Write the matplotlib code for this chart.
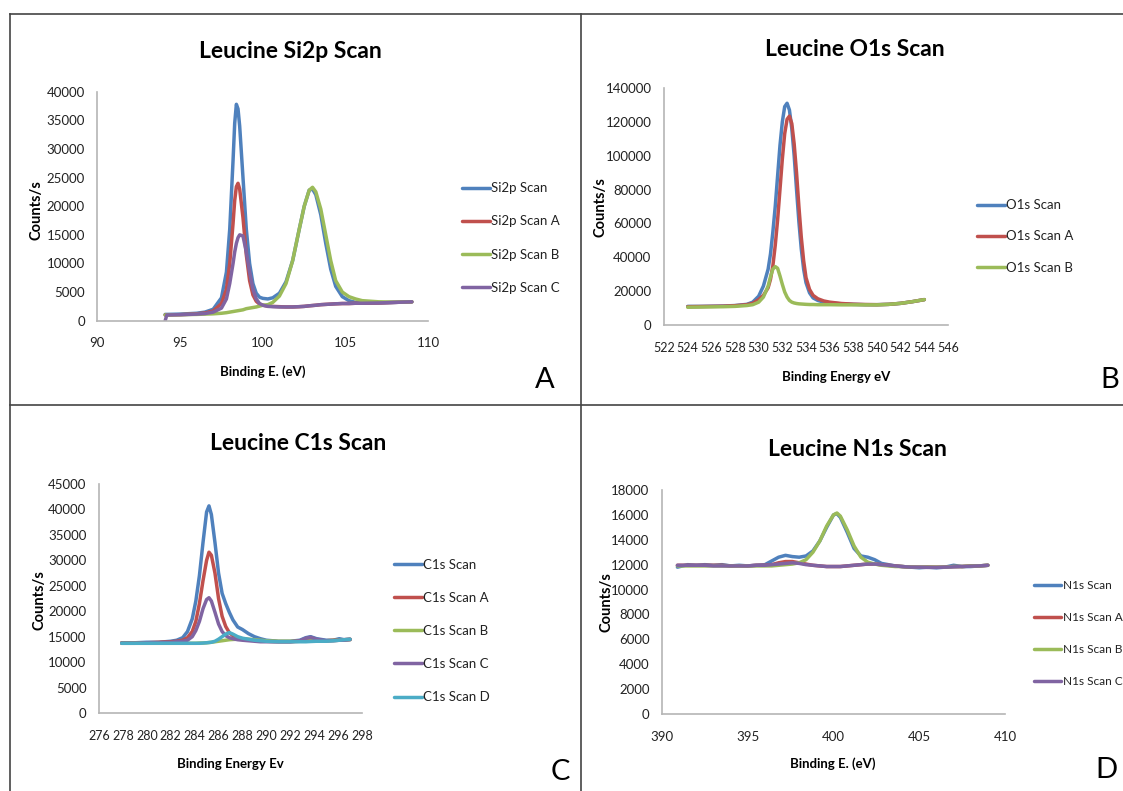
import matplotlib
matplotlib.use("Agg")
import matplotlib.pyplot as plt
from matplotlib.lines import Line2D

W, H = 1123, 791
FONT = ['Lato', 'DejaVu Sans']
plt.rcParams['font.family'] = FONT

BLUE, RED, GREEN, PURPLE, CYAN = '#4F81BD', '#C0504D', '#9BBB59', '#8064A2', '#4BACC6'

# ---------------- Panel A : Si2p ----------------
si2p_x = [94.1, 94.2, 95, 96, 96.5, 97.0, 97.5, 97.8, 98.0, 98.2, 98.3, 98.4, 98.5, 98.6, 98.8, 99.0,
          99.2, 99.4, 99.6, 99.8, 100.0, 100.3, 100.6, 101.0, 101.4, 101.8, 102.2, 102.5, 102.8, 103.0,
          103.2, 103.5, 103.8, 104.1, 104.4, 104.8, 105.2, 105.6, 106, 107, 108, 109]
si2p_scan = [1100, 1100, 1150, 1300, 1500, 2000, 4000, 8500, 16000, 28000, 34500, 37800, 37000, 34000,
             25000, 16000, 10000, 6500, 4800, 4100, 3900, 3800, 4000, 4800, 6800, 10500, 16000, 20000,
             22800, 23000, 22000, 18500, 13500, 9000, 6000, 4200, 3500, 3200, 3100, 3100, 3200, 3300]
si2p_scan_a = [1000, 1000, 1050, 1200, 1350, 1700, 3000, 5500, 10000, 17000, 21000, 23400, 24000, 23000,
               18000, 11500, 7000, 4500, 3400, 2900, 2700, 2550, 2500, 2450, 2400, 2400, 2450, 2500,
               2600, 2650, 2700, 2800, 2850, 2900, 2950, 3000, 3000, 3050, 3050, 3100, 3200, 3300]
si2p_scan_b = [1000, 1000, 1050, 1100, 1150, 1200, 1300, 1400, 1500, 1600, 1650, 1700, 1750, 1800,
               1900, 2100, 2200, 2300, 2400, 2550, 2700, 2800, 3200, 4300, 6500, 10500, 16000, 20000,
               22800, 23300, 22500, 19500, 15000, 10500, 7000, 5000, 4200, 3800, 3500, 3300, 3250, 3300]
si2p_scan_c = [0, 1000, 1050, 1150, 1250, 1500, 2200, 3800, 6500, 10000, 12000, 13500, 14500, 15000,
               14800, 12000, 8500, 5500, 3800, 3000, 2700, 2500, 2450, 2400, 2400, 2400, 2450, 2500,
               2600, 2650, 2700, 2800, 2850, 2900, 2950, 3000, 3000, 3050, 3050, 3100, 3200, 3300]
si2p_labels = ['Si2p Scan', 'Si2p Scan A', 'Si2p Scan B', 'Si2p Scan C']

# ---------------- Panel B : O1s ----------------
o1s_x = [524, 525, 526, 527, 528, 529, 529.5, 530, 530.4, 530.8, 531.0, 531.2, 531.4, 531.6, 531.8,
         532.0, 532.2, 532.4, 532.6, 532.8, 533.0, 533.2, 533.4, 533.6, 533.8, 534.0, 534.3, 534.6,
         535, 535.5, 536, 537, 538, 539, 540, 541, 542, 543, 544]
o1s_scan = [11000, 11000, 11100, 11200, 11500, 12200, 13500, 17000, 23000, 33000, 42000, 55000, 70000,
            88000, 106000, 120000, 129000, 131000, 127000, 116000, 100000, 80000, 61000, 45000, 33000,
            25000, 19000, 16000, 14500, 13500, 13000, 12500, 12200, 12000, 12000, 12200, 12800, 13800, 15000]
o1s_scan_a = [10800, 10900, 11000, 11100, 11400, 12000, 12800, 15000, 17500, 22000, 27000, 35000, 47000,
              62000, 80000, 98000, 113000, 121500, 123400, 119000, 107000, 90000, 70000, 52000, 38000,
              28000, 21000, 17500, 15500, 14200, 13500, 12700, 12300, 12100, 12000, 12200, 12800, 13800, 15000]
o1s_scan_b = [10500, 10600, 10700, 10800, 11000, 11500, 12000, 13500, 16500, 23000, 28500, 33000, 34500,
              33500, 29000, 24000, 19500, 16500, 14500, 13500, 13000, 12700, 12500, 12400, 12300, 12200,
              12100, 12100, 12000, 12000, 12000, 11900, 11900, 11900, 11900, 12200, 12800, 13800, 15000]
o1s_labels = ['O1s Scan', 'O1s Scan A', 'O1s Scan B']

# ---------------- Panel C : C1s ----------------
c1s_x = [277.9, 279, 280, 281, 282, 282.5, 283, 283.4, 283.8, 284.1, 284.4, 284.7, 285.0, 285.2, 285.4,
         285.7, 286.0, 286.3, 286.6, 286.9, 287.2, 287.6, 288.0, 288.5, 289, 289.5, 290, 291, 292,
         292.8, 293.3, 293.7, 294.2, 295, 295.6, 296.1, 296.5, 297]
c1s_scan = [13800, 13800, 13900, 13900, 14100, 14300, 14800, 16000, 18500, 22000, 27000, 33500, 39500,
            40700, 39000, 33500, 27500, 23500, 21500, 19800, 18300, 16900, 16400, 15600, 15000, 14600,
            14300, 14100, 14100, 14300, 14800, 15000, 14600, 14300, 14300, 14600, 14400, 14500]
c1s_scan_a = [13800, 13800, 13800, 13900, 14000, 14100, 14300, 14800, 16000, 18000, 21500, 26000, 30000,
              31600, 31000, 27500, 22500, 19000, 17000, 15800, 15200, 14800, 14600, 14400, 14300, 14200,
              14100, 14000, 14000, 14100, 14200, 14300, 14200, 14200, 14300, 14400, 14400, 14500]
c1s_scan_b = [13700, 13700, 13700, 13700, 13700, 13700, 13700, 13700, 13700, 13700, 13750, 13750, 13800,
              13850, 13900, 14000, 14100, 14200, 14300, 14400, 14450, 14500, 14500, 14500, 14400, 14300,
              14200, 14100, 14100, 14100, 14100, 14150, 14150, 14200, 14250, 14300, 14350, 14400]
c1s_scan_c = [13700, 13700, 13800, 13800, 13900, 14000, 14100, 14300, 15000, 16200, 18000, 20500, 22300,
              22650, 22000, 19800, 17500, 16000, 15200, 14800, 14600, 14400, 14300, 14200, 14100, 14000,
              14000, 14000, 14000, 14200, 14700, 14900, 14500, 14200, 14200, 14300, 14300, 14400]
c1s_scan_d = [13700, 13700, 13700, 13700, 13700, 13700, 13700, 13700, 13700, 13700, 13700, 13750, 13800,
              13850, 13900, 14100, 14500, 15000, 15500, 15800, 15500, 15000, 14700, 14500, 14300, 14200,
              14100, 14000, 14000, 14000, 14000, 14050, 14100, 14100, 14200, 14300, 14400, 14500]
c1s_labels = ['C1s Scan', 'C1s Scan A', 'C1s Scan B', 'C1s Scan C', 'C1s Scan D']

# ---------------- Panel D : N1s ----------------
n1s_x = [390.9, 391.5, 392, 392.5, 393, 393.5, 394, 394.5, 395, 395.5, 396, 396.4, 396.8, 397.2, 397.6,
         398, 398.4, 398.8, 399.2, 399.6, 400.0, 400.2, 400.4, 400.8, 401.2, 401.6, 402, 402.4, 402.8,
         403.2, 403.6, 404, 404.5, 405, 405.5, 406, 406.5, 407, 407.5, 408, 408.5, 409]
n1s_scan = [11800, 12000, 11950, 12000, 11950, 12000, 11900, 11950, 11900, 11950, 12000, 12300, 12600,
            12750, 12650, 12600, 12700, 13100, 13900, 15000, 16000, 16100, 15800, 14600, 13300, 12700,
            12600, 12400, 12100, 12000, 11900, 11850, 11800, 11750, 11800, 11750, 11800, 11950, 11850,
            11850, 11900, 11950]
n1s_scan_a = [11950, 11950, 11950, 11950, 11950, 11950, 11900, 11900, 11900, 11950, 11950, 12000, 12150,
              12250, 12250, 12150, 12050, 11950, 11900, 11850, 11850, 11850, 11850, 11900, 11950, 12000,
              12050, 12050, 12000, 11950, 11900, 11850, 11800, 11800, 11800, 11800, 11800, 11850, 11850,
              11900, 11900, 11950]
n1s_scan_b = [11900, 11900, 11900, 11900, 11900, 11900, 11900, 11900, 11900, 11900, 11900, 11900, 11950,
              12000, 12050, 12150, 12400, 13000, 13900, 15100, 16000, 16150, 15900, 14800, 13500, 12600,
              12200, 12050, 11950, 11900, 11850, 11850, 11800, 11800, 11800, 11800, 11800, 11850, 11850,
              11900, 11900, 11950]
n1s_scan_c = [11950, 11950, 11950, 11950, 11900, 11900, 11900, 11900, 11900, 11950, 11950, 12000, 12050,
              12100, 12150, 12100, 12000, 11950, 11900, 11850, 11850, 11850, 11850, 11900, 11950, 12000,
              12050, 12050, 12000, 11950, 11900, 11850, 11800, 11800, 11780, 11780, 11800, 11820, 11850,
              11880, 11900, 11950]
n1s_labels = ['N1s Scan', 'N1s Scan A', 'N1s Scan B', 'N1s Scan C']

fig = plt.figure(figsize=(W / 100, H / 100), dpi=100)


def fx(px):
    return px / W


def fy(py):
    return 1 - py / H


def make_axes(l, r, t, b, xsize=9.5):
    ax = fig.add_axes([fx(l), fy(b), (r - l) / W, (b - t) / H])
    for s in ('top', 'right'):
        ax.spines[s].set_visible(False)
    for s in ('left', 'bottom'):
        ax.spines[s].set_color('#b5b5b5')
        ax.spines[s].set_linewidth(1.2)
    ax.tick_params(length=0, labelsize=9.5, colors='#222222')
    ax.tick_params(axis='y', pad=9)
    ax.tick_params(axis='x', pad=12, labelsize=xsize)
    return ax


def draw(ax, x, series, colors, labels, xlim, ylim, xticks, yticks, leg_left, leg_center, spacing,
         legsize=9.5, handlelength=2.1):
    for ys, c, lab in zip(series, colors, labels):
        ax.plot(x, ys, color=c, lw=2.5, label=lab, solid_capstyle='round', solid_joinstyle='round')
    ax.set_xlim(*xlim)
    ax.set_ylim(*ylim)
    ax.set_xticks(xticks)
    ax.set_yticks(yticks)
    ax.set_xticklabels([str(v) for v in xticks])
    ax.set_yticklabels([str(v) for v in yticks])
    leg = ax.legend(loc='center left', bbox_to_anchor=(fx(leg_left), fy(leg_center)),
                    bbox_transform=fig.transFigure, frameon=False, fontsize=legsize,
                    handlelength=handlelength, handletextpad=0.1, borderpad=0, borderaxespad=0,
                    labelspacing=spacing)
    for t in leg.get_texts():
        t.set_color('#222222')


def texts(title, tpos, xlabel, xlpos, ylpos, letter, lpos):
    fig.text(fx(tpos[0]), fy(tpos[1]), title, ha='center', va='center', fontsize=16.5, fontweight='bold')
    fig.text(fx(xlpos[0]), fy(xlpos[1]), xlabel, ha='center', va='center', fontsize=9.5, fontweight='bold')
    fig.text(fx(ylpos[0]), fy(ylpos[1]), 'Counts/s', ha='center', va='center', fontsize=10.5,
             fontweight='bold', rotation=90)
    fig.text(fx(lpos[0]), fy(lpos[1]), letter, ha='center', va='center', fontsize=21)


# Panel A
axA = make_axes(97.3, 428.4, 91.7, 320.7)
draw(axA, si2p_x, [si2p_scan, si2p_scan_a, si2p_scan_b, si2p_scan_c], [BLUE, RED, GREEN, PURPLE],
     si2p_labels, (90, 110), (0, 40000), [90, 95, 100, 105, 110], list(range(0, 40001, 5000)),
     462, 238, 1.6)
texts('Leucine Si2p Scan', (290, 52), 'Binding E. (eV)', (263, 372), (36, 210), 'A', (545, 380))

# Panel B
axB = make_axes(664, 948, 88, 325, xsize=9)
draw(axB, o1s_x, [o1s_scan, o1s_scan_a, o1s_scan_b], [BLUE, RED, GREEN], o1s_labels,
     (522, 546), (0, 140000), list(range(522, 547, 2)), list(range(0, 140001, 20000)),
     977, 236.5, 1.45)
texts('Leucine O1s Scan', (855, 49), 'Binding Energy eV', (836, 377), (601, 207), 'B', (1110, 380))

# Panel C
axC = make_axes(99, 362, 484, 713, xsize=9)
draw(axC, c1s_x, [c1s_scan, c1s_scan_a, c1s_scan_b, c1s_scan_c, c1s_scan_d],
     [BLUE, RED, GREEN, PURPLE, CYAN], c1s_labels, (276, 298), (0, 45000),
     list(range(276, 299, 2)), list(range(0, 45001, 5000)), 394, 631, 1.6)
texts('Leucine C1s Scan', (298, 443), 'Binding Energy Ev', (230, 764), (39, 600), 'C', (560, 772))

# Panel D
axD = make_axes(662, 1005, 490, 714)
draw(axD, n1s_x, [n1s_scan, n1s_scan_a, n1s_scan_b, n1s_scan_c], [BLUE, RED, GREEN, PURPLE],
     n1s_labels, (390, 410), (0, 18000), [390, 395, 400, 405, 410], list(range(0, 18001, 2000)),
     1034, 633.5, 1.75, legsize=8.6, handlelength=2.3)
texts('Leucine N1s Scan', (857, 450), 'Binding E. (eV)', (833, 764), (606, 602), 'D', (1106, 770))

# Panel frame lines
frame_kw = dict(color='#444444', lw=1.2)
fig.add_artist(Line2D([fx(10), 1], [fy(14), fy(14)], transform=fig.transFigure, **frame_kw))
fig.add_artist(Line2D([fx(10), 1], [fy(405), fy(405)], transform=fig.transFigure, **frame_kw))
fig.add_artist(Line2D([fx(10), fx(10)], [fy(14), 0], transform=fig.transFigure, **frame_kw))
fig.add_artist(Line2D([fx(581), fx(581)], [fy(14), 0], transform=fig.transFigure, **frame_kw))

fig.savefig('out.png', dpi=100)
